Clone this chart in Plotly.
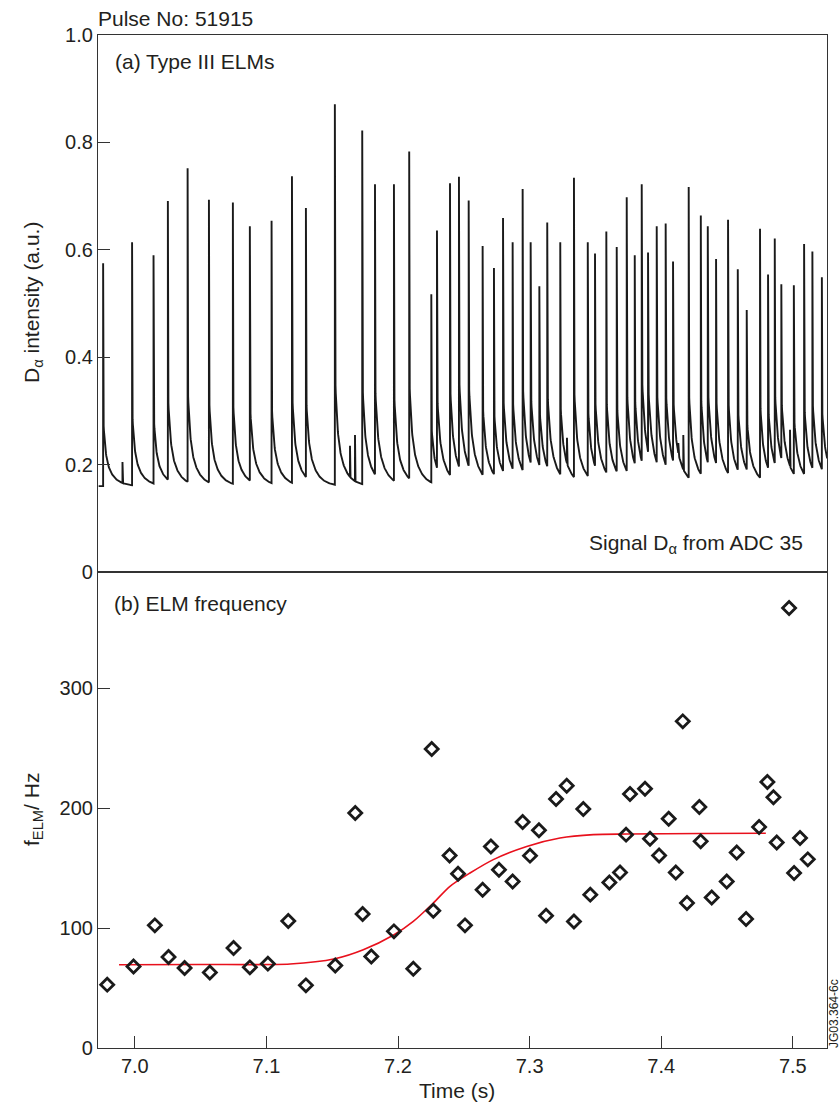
import numpy as np
import plotly.graph_objects as go
from plotly.subplots import make_subplots

# ---------------- data ----------------
# (a) D-alpha signal: ELM spike times (s) and peak heights (a.u.)
ELM_TIME = [6.9759, 6.9979, 7.0142, 7.0251, 7.0401, 7.0563, 7.0745, 7.0874, 7.1039, 7.1194,
            7.1300, 7.1520, 7.1728, 7.1825, 7.1969, 7.2085, 7.2253, 7.2296, 7.2395, 7.2463,
            7.2537, 7.2643, 7.2729, 7.2798, 7.2871, 7.2947, 7.3008, 7.3074, 7.3134, 7.3233,
            7.3337, 7.3442, 7.3497, 7.3583, 7.3662, 7.3738, 7.3799, 7.3852, 7.3900, 7.3966,
            7.4034, 7.4090, 7.4209, 7.4301, 7.4354, 7.4417, 7.4508, 7.4582, 7.4650, 7.4751,
            7.4812, 7.4863, 7.4913, 7.5008, 7.5086, 7.5149, 7.5221]
ELM_PEAK = [0.575, 0.614, 0.590, 0.691, 0.752, 0.693, 0.688, 0.644, 0.654, 0.737,
            0.678, 0.871, 0.822, 0.722, 0.722, 0.783, 0.517, 0.636, 0.724, 0.736,
            0.692, 0.607, 0.566, 0.659, 0.614, 0.713, 0.614, 0.532, 0.651, 0.614,
            0.734, 0.614, 0.593, 0.634, 0.605, 0.698, 0.590, 0.722, 0.595, 0.644,
            0.649, 0.578, 0.717, 0.664, 0.644, 0.583, 0.656, 0.564, 0.488, 0.639,
            0.554, 0.621, 0.536, 0.534, 0.611, 0.597, 0.549]
SMALL_TIME = [6.9906, 7.1635, 7.1673, 7.3284, 7.4130, 7.4168, 7.4979]
SMALL_PEAK = [0.205, 0.235, 0.255, 0.250, 0.240, 0.255, 0.265]
BASELINE = 0.160          # quiescent D-alpha level between ELMs
SHOULDER_FRAC = 0.32      # post-spike shoulder relative to spike amplitude
TAU_FAST, TAU_SLOW = 0.0014, 0.0060

# (b) ELM frequency
F_TIME = [6.979, 6.999, 7.0152, 7.0256, 7.0378, 7.057, 7.075, 7.0874, 7.1011, 7.1166,
          7.130, 7.1523, 7.1675, 7.1731, 7.1797, 7.1969, 7.2116, 7.2256, 7.2268, 7.2392,
          7.2456, 7.2509, 7.2643, 7.2706, 7.2767, 7.2871, 7.2947, 7.3003, 7.3071, 7.3125,
          7.3201, 7.3282, 7.3337, 7.3408, 7.3461, 7.3606, 7.3687, 7.3733, 7.3763, 7.3877,
          7.3915, 7.3984, 7.4057, 7.4111, 7.4164, 7.4196, 7.4290, 7.4300, 7.4384, 7.4498,
          7.4574, 7.4645, 7.4744, 7.4807, 7.4853, 7.4878, 7.4972, 7.5010, 7.5055, 7.5114]
F_VAL = [52.8, 68, 102.2, 75.8, 66.7, 63, 83.3, 67.2, 70.3, 105.8,
         52.2, 68.8, 195.8, 111.7, 76.3, 97.2, 66.1, 249.2, 114.4, 160.5,
         145.2, 102.2, 131.9, 168, 148.6, 138.8, 188.3, 160.3, 181.4, 110.3,
         207.5, 218.6, 105.5, 199.2, 127.8, 138, 146.3, 177.8, 211.7, 216.1,
         174.4, 160.5, 191.1, 146.3, 272.2, 120.8, 200.8, 172.2, 125.5, 138.8,
         163, 107.5, 184.2, 221.7, 208.9, 171.3, 366.7, 145.8, 175, 157.2]
# fitted curve (red)
FIT_TIME = [6.988, 7.05, 7.118, 7.152, 7.1736, 7.197, 7.2116, 7.2268, 7.2395, 7.2547,
            7.2724, 7.2978, 7.3231, 7.3484, 7.3738, 7.43, 7.4795]
FIT_VAL = [69.4, 69.6, 70.0, 74.4, 81.9, 94.4, 105.5, 120.8, 134.7, 145.8,
           157.0, 168.0, 175.0, 177.8, 178.3, 178.7, 179.0]

X_RANGE = [6.972, 7.526]
X_TICKS = [7.0, 7.1, 7.2, 7.3, 7.4, 7.5]
X_TICKTEXT = ["7.0", "7.1", "7.2", "7.3", "7.4", "7.5"]
Y1_TICKS = [0, 0.2, 0.4, 0.6, 0.8, 1.0]
Y1_TICKTEXT = ["0", "0.2", "0.4", "0.6", "0.8", "1.0"]
Y2_TICKS = [0, 100, 200, 300]
Y2_TICKTEXT = ["0", "100", "200", "300"]

# ---------------- build D-alpha trace from spike list ----------------
t_grid = np.arange(X_RANGE[0] + 0.0005, X_RANGE[1] + 0.0002, 0.0002)


def level(t):
    t = np.atleast_1d(np.asarray(t, dtype=float))
    v = np.full_like(t, BASELINE)
    for tk, pk in zip(ELM_TIME, ELM_PEAK):
        amp = SHOULDER_FRAC * (pk - BASELINE)
        dt = t - tk
        m = dt > 0
        v[m] += amp * (0.5 * np.exp(-dt[m] / TAU_FAST) + 0.5 * np.exp(-dt[m] / TAU_SLOW))
    return v


pts_t = list(t_grid)
pts_v = list(level(t_grid))
for tk, pk in zip(ELM_TIME, ELM_PEAK):
    pts_t += [tk - 1e-5, tk, tk + 1e-5]
    pts_v += [float(level(tk - 1e-5)[0]), pk, float(level(tk + 1e-5)[0])]
for ts, ps in zip(SMALL_TIME, SMALL_PEAK):
    pts_t += [ts - 1e-5, ts, ts + 1e-4]
    pts_v += [float(level(ts - 1e-5)[0]), ps, float(level(ts + 1e-4)[0])]
order = np.argsort(pts_t, kind="stable")
sig_t = np.asarray(pts_t)[order]
sig_v = np.asarray(pts_v)[order]

# ---------------- figure ----------------
W, H = 840, 1104
ML, MR, MT, MB = 98, 13, 35, 56
PW, PH = W - ML - MR, H - MT - MB
split = (1048 - 572) / PH

fig = make_subplots(rows=2, cols=1, shared_xaxes=True, vertical_spacing=0)

fig.add_trace(go.Scatter(x=sig_t, y=sig_v, mode="lines",
                         line=dict(color="#1a1a1a", width=1.9),
                         showlegend=False, hoverinfo="skip"), row=1, col=1)

fig.add_trace(go.Scatter(x=FIT_TIME, y=FIT_VAL, mode="lines",
                         line=dict(color="#e8101c", width=1.6, shape="spline", smoothing=0.8),
                         showlegend=False), row=2, col=1)
fig.add_trace(go.Scatter(x=F_TIME, y=F_VAL, mode="markers",
                         marker=dict(symbol="diamond-open", size=10,
                                     color="#1a1a1a", line=dict(color="#1a1a1a", width=2.8)),
                         showlegend=False), row=2, col=1)

axis_common = dict(showline=True, linecolor="#333333", linewidth=1.2, mirror=True,
                   showgrid=False, zeroline=False,
                   tickfont=dict(family="Liberation Sans, Arial, sans-serif", size=20, color="#231f20"))

fig.update_xaxes(range=X_RANGE, showticklabels=False, ticks="", row=1, col=1, **axis_common)
fig.update_xaxes(range=X_RANGE, tickvals=X_TICKS, ticktext=X_TICKTEXT, ticks="inside",
                 ticklen=12, tickwidth=1.2, tickcolor="#333333", row=2, col=1, **axis_common)
fig.update_yaxes(range=[0, 1.0], tickvals=Y1_TICKS, ticktext=Y1_TICKTEXT, ticks="inside",
                 ticklen=12, tickwidth=1.2, tickcolor="#333333", domain=[split, 1.0],
                 row=1, col=1, **axis_common)
fig.update_yaxes(range=[0, (1048 - 572) / 1.2], tickvals=Y2_TICKS, ticktext=Y2_TICKTEXT,
                 ticks="inside", ticklen=12, tickwidth=1.2, tickcolor="#333333",
                 domain=[0, split], row=2, col=1, **axis_common)


def px(xp):
    return (xp - ML) / PW


def py(yp):
    return (H - MB - yp) / PH


FONT = "Liberation Sans, Arial, sans-serif"
TXT = "#231f20"
annos = [
    dict(text="Pulse No: 51915", x=px(96), y=py(19), xanchor="left", yanchor="middle", size=21, angle=0),
    dict(text="(a) Type III ELMs", x=px(112.5), y=py(61), xanchor="left", yanchor="middle", size=21, angle=0),
    dict(text="Signal D<sub>α</sub> from ADC 35", x=px(805), y=py(544), xanchor="right", yanchor="middle", size=21, angle=0),
    dict(text="(b) ELM frequency", x=px(112), y=py(603), xanchor="left", yanchor="middle", size=21, angle=0),
    dict(text="D<sub>α</sub> intensity (a.u.)", x=px(33), y=py(303), xanchor="center", yanchor="middle", size=21, angle=-90),
    dict(text="f<sub>ELM</sub>/ Hz", x=px(33), y=py(810), xanchor="center", yanchor="middle", size=21, angle=-90),
    dict(text="Time (s)", x=px(457), y=py(1090), xanchor="center", yanchor="middle", size=21, angle=0),
    dict(text="JG03.364-6c", x=px(834), y=py(1013), xanchor="center", yanchor="middle", size=12, angle=-90),
]
for a in annos:
    fig.add_annotation(text=a["text"], x=a["x"], y=a["y"], xref="paper", yref="paper",
                       xanchor=a["xanchor"], yanchor=a["yanchor"], textangle=a["angle"],
                       showarrow=False, font=dict(family=FONT, size=a["size"], color=TXT))

fig.update_layout(width=W, height=H, margin=dict(l=ML, r=MR, t=MT, b=MB, pad=0),
                  paper_bgcolor="white", plot_bgcolor="white",
                  font=dict(family=FONT, color=TXT), showlegend=False)

fig.write_html("out.html")
